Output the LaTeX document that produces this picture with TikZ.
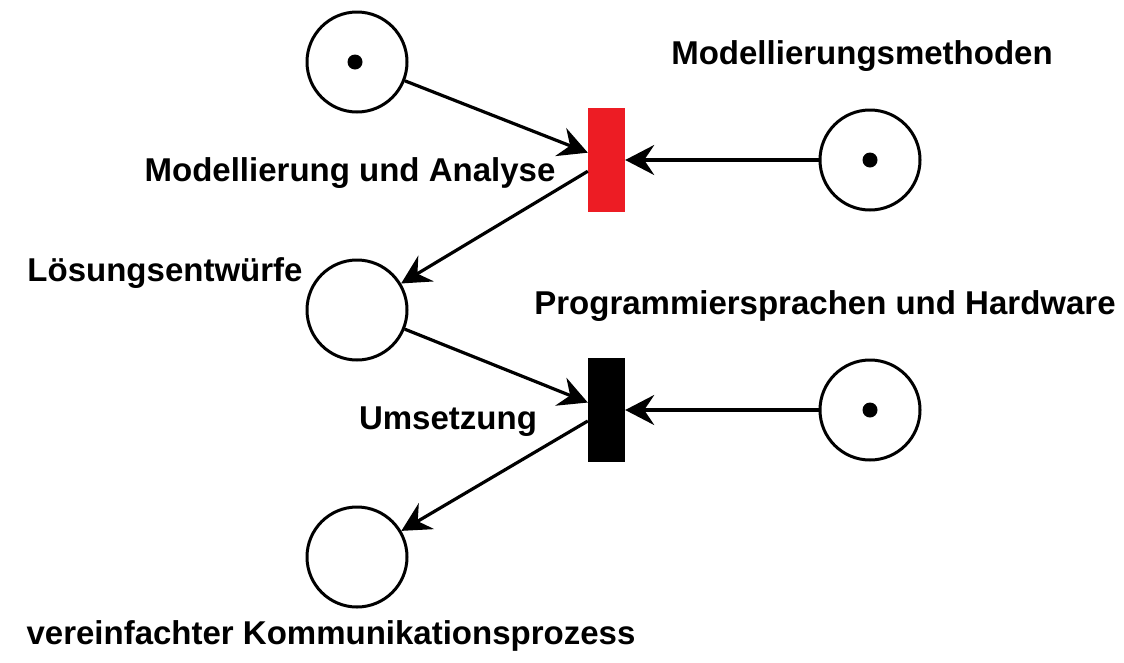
\documentclass[tikz,border=0pt]{standalone}
\usepackage{fontspec}
\setmainfont{Liberation Sans}
\usetikzlibrary{arrows.meta}
\begin{document}
\begin{tikzpicture}[x=1pt,y=-1pt,
  place/.style={draw=black,line width=3pt,circle,minimum size=100pt,inner sep=0pt,fill=white},
  trans/.style={draw=none,minimum width=37pt,minimum height=104pt,inner sep=0pt},
  token/.style={fill=black,circle,minimum size=15pt,inner sep=0pt},
  lbl/.style={font=\fontsize{33}{38}\selectfont\bfseries,inner sep=0pt},
  arc/.style={line width=3.2pt,-{Stealth[length=29pt,width=30pt,inset=10pt]}}]
\useasboundingbox (0,0) rectangle (1124,662);
\node[place] (p1) at (357,62) {};
\node[token] (k1) at (355,62) {};
\node[place] (p2) at (870,160) {};
\node[token] (k2) at (870,160) {};
\node[place] (p3) at (357,310) {};
\node[place] (p4) at (870,410) {};
\node[token] (k4) at (870,410) {};
\node[place] (p5) at (357,557) {};
\node[trans,fill={rgb,255:red,237;green,28;blue,36}] (t1) at (606.5,160) {};
\node[trans,fill=black] (t2) at (606.5,410) {};
\node[lbl] (l1) at (862,56) {Modellierungsmethoden};
\node[lbl] (l2) at (350,173) {Modellierung und Analyse};
\node[lbl] (l3) at (165,273) {Lösungsentwürfe};
\node[lbl] (l4) at (825,306) {Programmiersprachen und Hardware};
\node[lbl] (l5) at (448,422) {Umsetzung};
\node[lbl] (l6) at (331,636) {vereinfachter Kommunikationsprozess};
\draw[arc] (p1) -- (t1);
\draw[arc] (p2) -- (t1);
\draw[arc] (t1) -- (p3);
\draw[arc] (p3) -- (t2);
\draw[arc] (p4) -- (t2);
\draw[arc] (t2) -- (p5);
\end{tikzpicture}
\end{document}
